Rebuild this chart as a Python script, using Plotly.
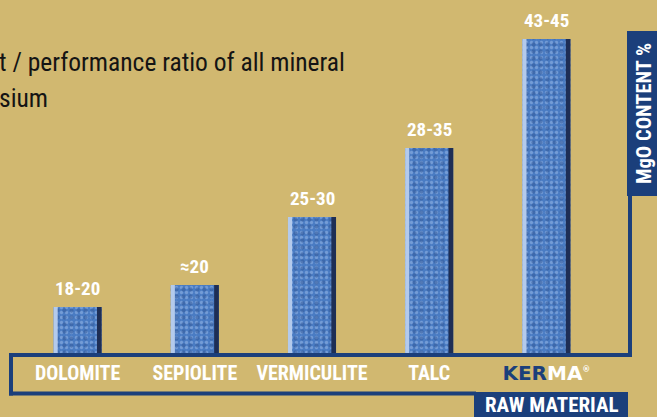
import plotly.graph_objects as go

# ---------------- data ----------------
categories = ["DOLOMITE", "SEPIOLITE", "VERMICULITE", "TALC", "KERMA"]
mgo_labels = ["18-20", "≈20", "25-30", "28-35", "43-45"]
# illustrative bar heights as drawn (relative units)
bar_height = [48, 70, 138, 207, 316]
y_axis_max = 335

# ---------------- style ----------------
W, H = 657, 417
M_L, M_R, M_T, M_B = 19, 52, 20, 62
BG = "#D1B870"
NAVY = "#1B3F7B"
BAR = "#4A7CC3"
NARROW = "Liberation Sans Narrow, Arial Narrow, Roboto Condensed, sans-serif"
PW = W - M_L - M_R
PH = H - M_T - M_B


def px(x):
    return (x - M_L) / PW


def py(y):
    return (H - M_B - y) / PH


BW = 0.41
fig = go.Figure()
# main textured bar
fig.add_trace(go.Bar(
    x=categories, y=bar_height, width=BW, offset=-BW / 2,
    marker=dict(color=BAR, line=dict(width=0),
                pattern=dict(shape=".", fgcolor="#9BBBEA", size=5, solidity=0.35)),
    hoverinfo="skip", showlegend=False))
fig.add_trace(go.Bar(
    x=categories, y=bar_height, width=BW, offset=-BW / 2,
    marker=dict(color="rgba(0,0,0,0)", line=dict(width=0),
                pattern=dict(shape=".", fgcolor="#2F5695", bgcolor="rgba(0,0,0,0)",
                             size=7, solidity=0.3, fillmode="overlay")),
    hoverinfo="skip", showlegend=False))
# light left edge and dark right edge
fig.add_trace(go.Bar(
    x=categories, y=bar_height, width=0.035, offset=-BW / 2,
    marker=dict(color="#B3CAEC", line=dict(width=0)),
    hoverinfo="skip", showlegend=False))
fig.add_trace(go.Bar(
    x=categories, y=bar_height, width=0.04, offset=BW / 2 - 0.04,
    marker=dict(color="#1E2E55", line=dict(width=0)),
    hoverinfo="skip", showlegend=False))

# value labels above bars
for c, v, t in zip(categories, bar_height, mgo_labels):
    fig.add_annotation(x=c, y=v, xref="x", yref="y", text=t, showarrow=False,
                       yanchor="bottom", yshift=5,
                       font=dict(family=NARROW, size=19, color="white", weight="bold"))

tick_text = categories[:-1] + [
    "<span style='font-family:DejaVu Sans;font-weight:bold;color:%s'>KER</span>"
    "<span style='font-family:DejaVu Sans;font-weight:bold'>MA</span>"
    "<sup><span style='font-family:DejaVu Sans;font-size:8px'>®</span></sup>" % NAVY
]

shapes = []
LW = 4
# frame lines
shapes.append(dict(type="line", xref="paper", yref="paper", x0=px(9), x1=px(632),
                   y0=py(355), y1=py(355), line=dict(color=NAVY, width=LW)))
shapes.append(dict(type="line", xref="paper", yref="paper", x0=px(11), x1=px(11),
                   y0=py(353), y1=py(395.5), line=dict(color=NAVY, width=LW)))
shapes.append(dict(type="line", xref="paper", yref="paper", x0=px(9), x1=px(476),
                   y0=py(393.5), y1=py(393.5), line=dict(color=NAVY, width=LW)))
shapes.append(dict(type="line", xref="paper", yref="paper", x0=px(630), x1=px(630),
                   y0=py(195), y1=py(357), line=dict(color=NAVY, width=LW)))
# label boxes
shapes.append(dict(type="rect", xref="paper", yref="paper", x0=px(474), x1=px(628),
                   y0=py(392), y1=py(420), fillcolor=NAVY, line=dict(width=0)))
shapes.append(dict(type="rect", xref="paper", yref="paper", x0=px(627), x1=px(660),
                   y0=py(31), y1=py(196), fillcolor=NAVY, line=dict(width=0)))

annotations = [
    dict(xref="paper", yref="paper", x=px(552), y=py(405), text="RAW MATERIAL",
         showarrow=False, xanchor="center", yanchor="middle",
         font=dict(family=NARROW, size=21, color="white", weight="bold")),
    dict(xref="paper", yref="paper", x=px(644), y=py(114), text="MgO CONTENT %",
         showarrow=False, textangle=-90, xanchor="center", yanchor="middle",
         font=dict(family=NARROW, size=20.5, color="white", weight="bold")),
    dict(xref="paper", yref="paper", x=px(-3), y=py(62), text="t / performance ratio of all mineral",
         showarrow=False, xanchor="left", yanchor="middle",
         font=dict(family=NARROW, size=25.5, color="#141414")),
    dict(xref="paper", yref="paper", x=px(-3), y=py(98), text="sium",
         showarrow=False, xanchor="left", yanchor="middle",
         font=dict(family=NARROW, size=25.5, color="#141414")),
]

fig.update_layout(
    width=W, height=H,
    margin=dict(l=M_L, r=M_R, t=M_T, b=M_B, pad=0),
    paper_bgcolor=BG, plot_bgcolor=BG,
    barmode="overlay",
    showlegend=False,
    shapes=shapes,
    xaxis=dict(type="category", categoryorder="array", categoryarray=categories,
               tickmode="array", tickvals=categories, ticktext=tick_text,
               showgrid=False, zeroline=False, showline=False, ticks="",
               tickfont=dict(family=NARROW, size=20, color="white", weight="bold"),
               ticklabelstandoff=4, range=[-0.5, 4.5]),
    yaxis=dict(range=[0, y_axis_max], visible=False, showgrid=False, zeroline=False),
)
for a in annotations:
    fig.add_annotation(**a)

fig.write_html("out.html", config={"displayModeBar": False},
               post_script="document.body.style.margin='0';")
